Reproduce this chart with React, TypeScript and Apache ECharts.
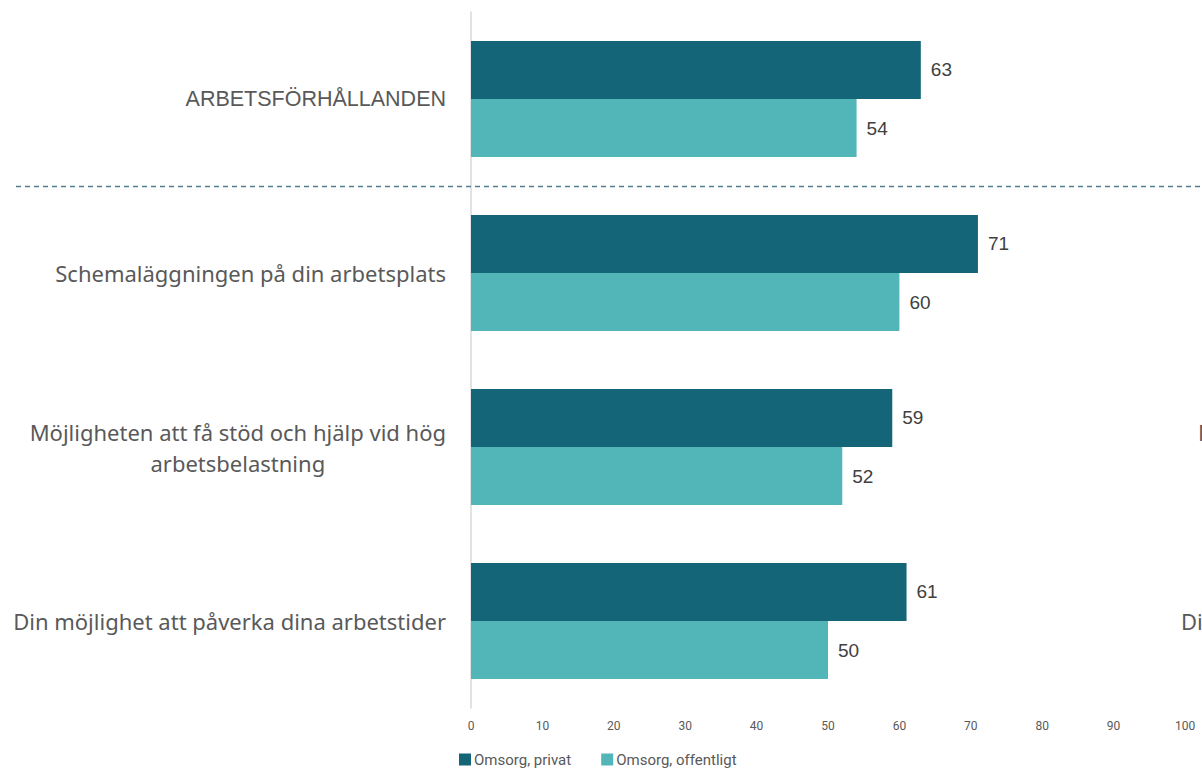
import React, { useEffect, useRef } from "react";
import * as echarts from "echarts";

const categories = [
  "ARBETSFÖRHÅLLANDEN",
  "Schemaläggningen på din arbetsplats",
  "Möjligheten att få stöd och hjälp vid hög\narbetsbelastning",
  "Din möjlighet att påverka dina arbetstider",
];
const seriesNames = ["Omsorg, privat", "Omsorg, offentligt"];
const privat = [63, 71, 59, 61];
const offentligt = [54, 60, 52, 50];
const xTicks = { min: 0, max: 100, interval: 10 };
const clippedLabels = ["Möjligheten", "Din möjlighet"];

export default function App() {
  const ref = useRef<HTMLDivElement>(null);
  useEffect(() => {
    if (!ref.current) return;
    const chart = echarts.init(ref.current, null, { renderer: "svg" });
    const labelFont = "'Noto Sans', 'Open Sans', sans-serif";
    chart.setOption({
      animation: false,
      backgroundColor: "#ffffff",
      grid: { left: 471, right: 17, top: 12, bottom: 67, containLabel: false },
      legend: {
        left: 454,
        bottom: 3,
        itemWidth: 12,
        itemHeight: 12,
        itemGap: 30,
        icon: "rect",
        textStyle: {
          fontFamily: "'Liberation Sans Narrow', 'Roboto', sans-serif",
          fontSize: 15,
          color: "#595959",
          padding: [0, 0, 0, -2],
        },
        data: seriesNames,
      },
      xAxis: {
        type: "value",
        min: xTicks.min,
        max: xTicks.max,
        interval: xTicks.interval,
        splitLine: { show: false },
        axisLine: { show: false },
        axisTick: { show: false },
        axisLabel: {
          color: "#595959",
          fontSize: 12,
          fontFamily: "'Liberation Sans Narrow', 'Roboto', sans-serif",
          margin: 12,
        },
      },
      yAxis: {
        type: "category",
        inverse: true,
        data: categories,
        axisTick: { show: false },
        axisLine: { show: true, lineStyle: { color: "#d9d9d9", width: 1.5 } },
        axisLabel: {
          margin: 25,
          color: "#595959",
          fontSize: 22,
          lineHeight: 31,
          align: "right",
          fontFamily: labelFont,
          formatter: (v: string, i: number) => {
            if (i === 0) return "{caps|" + v + "}";
            if (v.indexOf("\n") >= 0) {
              const parts = v.split("\n");
              return "{c|" + parts[0] + "}\n{d|" + parts[1] + "}";
            }
            return "{n|" + v + "}";
          },
          rich: {
            caps: {
              fontFamily: "'Liberation Sans', Arial, sans-serif",
              fontSize: 21.5,
              color: "#595959",
            },
            n: { fontFamily: labelFont, fontSize: 22, color: "#595959" },
            c: { fontFamily: labelFont, fontSize: 22, color: "#595959", lineHeight: 31, align: "center" },
            d: { fontFamily: labelFont, fontSize: 22, color: "#595959", lineHeight: 31, align: "center" },
          },
        },
      },
      series: [
        {
          name: seriesNames[0],
          type: "bar",
          data: privat,
          barGap: "0%",
          barCategoryGap: "33.3%",
          itemStyle: { color: "#136577" },
          label: {
            show: true,
            position: "right",
            distance: 10,
            color: "#404040",
            fontSize: 19,
            fontFamily: "'Liberation Sans', Arial, sans-serif",
          },
        },
        {
          name: seriesNames[1],
          type: "bar",
          data: offentligt,
          barGap: "0%",
          barCategoryGap: "33.3%",
          itemStyle: { color: "#52b5b8" },
          label: {
            show: true,
            position: "right",
            distance: 10,
            color: "#404040",
            fontSize: 19,
            fontFamily: "'Liberation Sans', Arial, sans-serif",
          },
        },
      ],
    });
    const y0 = chart.convertToPixel({ yAxisIndex: 0 }, 0) as number;
    const y1 = chart.convertToPixel({ yAxisIndex: 0 }, 1) as number;
    const y2 = chart.convertToPixel({ yAxisIndex: 0 }, 2) as number;
    const y3 = chart.convertToPixel({ yAxisIndex: 0 }, 3) as number;
    const sepY = Math.round((y0 + y1) / 2) + 0.5;
    chart.setOption({
      graphic: [
        {
          type: "line",
          silent: true,
          z: 10,
          shape: { x1: 16, y1: sepY, x2: 1202, y2: sepY },
          style: { stroke: "#4f8090", lineWidth: 1.5, lineDash: [5, 4] },
        },
        {
          type: "text",
          x: 1198,
          y: y2 - 15,
          style: { text: clippedLabels[0], fill: "#595959", font: "22px 'Noto Sans', sans-serif", textVerticalAlign: "middle" },
        },
        {
          type: "text",
          x: 1181,
          y: y3,
          style: { text: clippedLabels[1], fill: "#595959", font: "22px 'Noto Sans', sans-serif", textVerticalAlign: "middle" },
        },
      ],
    });
    return () => chart.dispose();
  }, []);
  return <div ref={ref} style={{ width: 1202, height: 775, position: "absolute", left: 0, top: 0 }} />;
}
